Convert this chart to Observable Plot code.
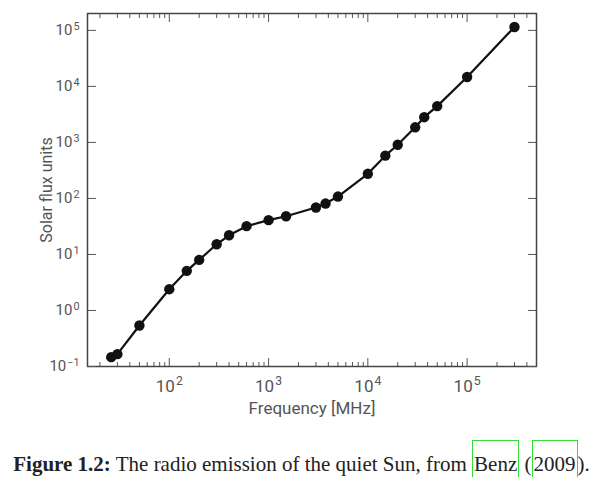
<!DOCTYPE html>
<html>
<head>
<meta charset="utf-8">
<script src="https://cdn.jsdelivr.net/npm/d3@7"></script>
<script src="https://cdn.jsdelivr.net/npm/@observablehq/plot@0.6"></script>
<style>
  body { margin: 0; background: #fff; }
  #chart svg { display: block; }
  #cap { font-family: "Liberation Serif", "DejaVu Serif", serif; font-size: 21px; color: #222; text-align: center; margin-top: 22px; white-space: nowrap; }
  #cap .lk { border: 1.5px solid #33dd33; padding: 11px 1px 5px 1px; }
</style>
</head>
<body>
<div id="chart"></div>
<div id="cap"><b>Figure 1.2:</b> The radio emission of the quiet Sun, from <span class="lk">Benz</span> (<span class="lk">2009</span>).</div>
<script>
// Data (frequency in MHz, flux in solar flux units)
const freq = [26, 30, 50, 100, 150, 200, 300, 400, 600, 1000, 1500, 3000, 3750, 5000, 10000, 15000, 20000, 30000, 37000, 50000, 100000, 300000];
const flux = [0.147, 0.166, 0.54, 2.4, 5.1, 8.0, 15.2, 22, 32, 41, 48, 69, 81, 108, 275, 580, 910, 1860, 2820, 4450, 14700, 115000];

const xMajor = [100, 1000, 10000, 100000];
const yMajor = [0.1, 1, 10, 100, 1000, 10000, 100000];
const xLabel = "Frequency [MHz]";
const yLabel = "Solar flux units";

const xMinor = [];
for (let e = 1; e <= 5; e++) for (let m = 2; m <= 9; m++) {
  const v = m * Math.pow(10, e);
  if (v > 15 && v < 500000) xMinor.push(v);
}
const pow10 = d => "10|" + Math.round(Math.log10(d));

const data = freq.map((f, i) => ({f, s: flux[i]}));
const ink = "#555";
const font = '"Roboto", "DejaVu Sans Condensed", sans-serif';

const chart = Plot.plot({
  width: 603,
  height: 430,
  marginLeft: 87,
  marginRight: 67,
  marginTop: 13,
  marginBottom: 64,
  style: {fontFamily: font, fontSize: "16px", color: ink, background: "#fff"},
  x: {type: "log", domain: [15, 500000]},
  y: {type: "log", domain: [0.1, 200000]},
  marks: [
    Plot.frame({stroke: "#444", strokeWidth: 1.5}),
    // x minor ticks (bottom & top, inward)
    Plot.axisX({anchor: "bottom", ticks: xMinor, tickSize: -4, tickFormat: () => "", label: null, stroke: ink}),
    Plot.axisX({anchor: "top", ticks: xMinor, tickSize: -4, tickFormat: () => "", label: null, stroke: ink}),
    // x major ticks
    Plot.axisX({anchor: "bottom", ticks: xMajor, tickSize: -8, tickFormat: () => "", label: null, stroke: ink}),
    Plot.axisX({anchor: "top", ticks: xMajor, tickSize: -8, tickFormat: () => "", label: null, stroke: ink}),
    Plot.axisX({anchor: "bottom", ticks: xMajor, tickSize: 0, tickPadding: 13, tickFormat: pow10, label: null, fill: ink, fontSize: 17}),
    // y major ticks
    Plot.axisY({anchor: "left", ticks: yMajor, tickSize: -9, tickFormat: () => "", label: null, stroke: ink}),
    Plot.axisY({anchor: "right", ticks: yMajor, tickSize: -9, tickFormat: () => "", label: null, stroke: ink}),
    Plot.axisY({anchor: "left", ticks: yMajor, tickSize: 0, tickPadding: 8, tickFormat: pow10, label: null, fill: ink, fontSize: 15}),
    // axis titles
    Plot.text([xLabel], {frameAnchor: "bottom", dy: 47, fill: ink, fontSize: 17}),
    Plot.text([yLabel], {frameAnchor: "left", textAnchor: "middle", rotate: -90, dx: -41, fill: ink, fontSize: 16}),
    // series
    Plot.line(data, {x: "f", y: "s", stroke: "#111", strokeWidth: 2.2}),
    Plot.dot(data, {x: "f", y: "s", r: 5.2, fill: "#111", stroke: "none"})
  ]
});
// render the "10|n" tick labels as 10 with a superscript exponent
chart.querySelectorAll("text").forEach(t => {
  const s = t.textContent;
  if (!s.startsWith("10|")) return;
  const exp = s.slice(3).replace("-", "\u2212");
  t.textContent = "";
  const base = document.createElementNS("http://www.w3.org/2000/svg", "tspan");
  base.textContent = "10";
  const sup = document.createElementNS("http://www.w3.org/2000/svg", "tspan");
  sup.textContent = exp;
  sup.setAttribute("dy", "-0.5em");
  sup.setAttribute("font-size", "0.72em");
  sup.setAttribute("dx", "1");
  t.appendChild(base);
  t.appendChild(sup);
});
document.getElementById("chart").appendChild(chart);
</script>
</body>
</html>
